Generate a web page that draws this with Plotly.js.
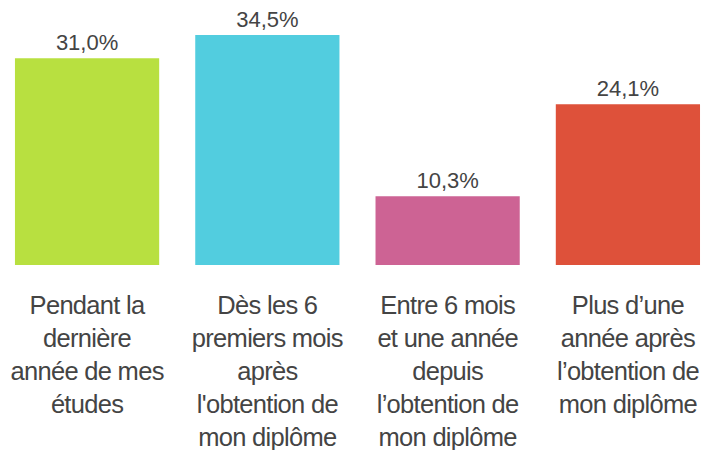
<!DOCTYPE html>
<html>
<head>
<meta charset="utf-8">
<script src="https://cdn.plot.ly/plotly-3.0.1.min.js"></script>
<style>html,body{margin:0;padding:0;background:#fff;overflow:hidden}#chart{width:702px;height:450px}
#chart .xtick text{letter-spacing:-0.7px}</style>
</head>
<body>
<div id="chart"></div>
<script>
const categories = [
  "Pendant la<br>dernière<br>année de mes<br>études",
  "Dès les 6<br>premiers mois<br>après<br>l'obtention de<br>mon diplôme",
  "Entre 6 mois<br>et une année<br>depuis<br>l’obtention de<br>mon diplôme",
  "Plus d’une<br>année après<br>l’obtention de<br>mon diplôme"
];
const values = [31.0, 34.5, 10.3, 24.1];
const colors = ["#b8e040", "#52cddf", "#cd6394", "#de513a"];

const trace = {
  type: "bar",
  x: categories,
  y: values,
  marker: {color: colors},
  texttemplate: "%{y:.1f}%",
  textposition: "outside",
  cliponaxis: false,
  textfont: {family: "Liberation Sans, Arial, sans-serif", size: 22, color: "#444444"},
  hoverinfo: "none"
};

const layout = {
  width: 702, height: 450,
  margin: {l: 0, r: 0, t: 0, b: 185, pad: 0},
  paper_bgcolor: "#fff", plot_bgcolor: "#fff",
  separators: ", ",
  bargap: 0.2,
  showlegend: false,
  font: {family: "Liberation Sans, Arial, sans-serif", color: "#444444"},
  xaxis: {
    range: [-0.483, 3.411],
    showline: false, showgrid: false, zeroline: false, ticks: "",
    tickangle: 0,
    ticklabelstandoff: 22,
    tickfont: {size: 25.5, color: "#444444"},
    automargin: false
  },
  yaxis: {
    range: [0, 39.75],
    visible: false, showgrid: false, zeroline: false, fixedrange: true
  }
};

Plotly.newPlot("chart", [trace], layout, {displayModeBar: false, staticPlot: true});
</script>
</body>
</html>
